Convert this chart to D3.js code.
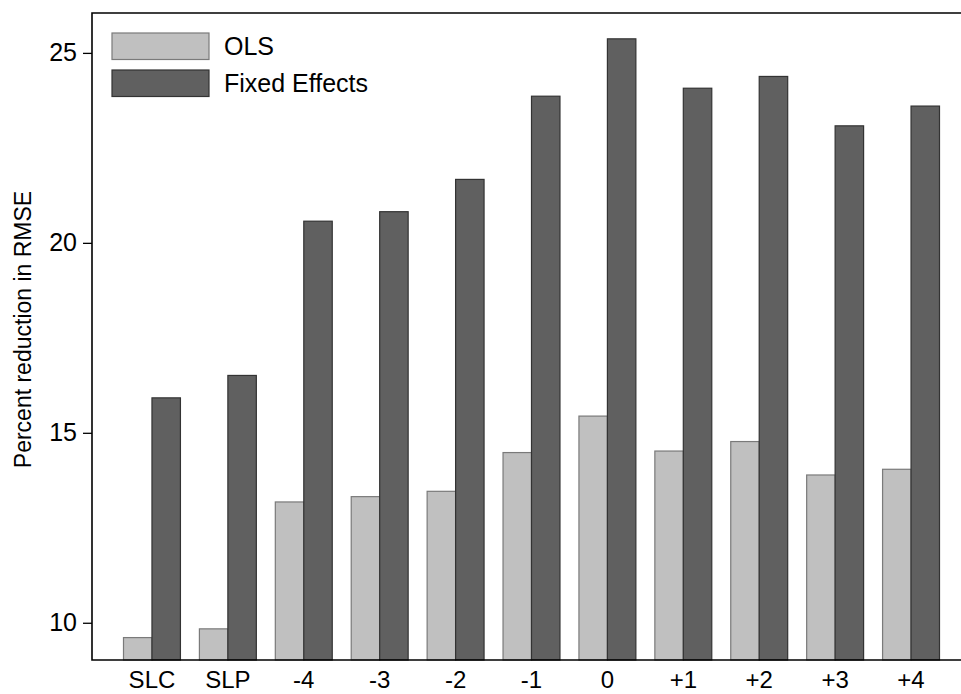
<!DOCTYPE html>
<html>
  <head>
    <meta charset="UTF-8">
    <style>
      body {
        margin: 0;
        font-family: Helvetica, Arial, "Liberation Sans", sans-serif;
        background: white;
      }
    </style>
    <script type="text/javascript" src="https://cdn.jsdelivr.net/npm/d3@7"></script>
  </head>

  <body>
    <svg id="Chart"></svg>

    <script type="text/javascript">
      // values
      let categories = ['SLC', 'SLP', '-4', '-3', '-2', '-1', '0', '+1', '+2', '+3', '+4'];
      let olsValues = [9.61, 9.84, 13.18, 13.32, 13.46, 14.48, 15.44, 14.52, 14.77, 13.89, 14.04];
      let fixedValues = [15.92, 16.51, 20.57, 20.82, 21.67, 23.86, 25.37, 24.07, 24.38, 23.08, 23.60];
      let seriesNames = ['OLS', 'Fixed Effects'];
      let seriesColors = ['#c0c0c0', '#606060'];
      let seriesStrokes = ['#7a7a7a', '#333333'];
      let yTicks = [10, 15, 20, 25];

      function getConfig() {
        let width = 961;
        let height = 694;
        let margin = {top: 13, bottom: 34, left: 92, right: -10};

        let container = d3.select('#Chart')
          .attr('width', width)
          .attr('height', height)

        return {width, height, margin, container}
      }

      function getScales(config) {
        let {width, height, margin} = config;

        let xScale = d3.scaleBand()
          .domain(categories)
          .range([margin.left, width - margin.right])
          .paddingInner(0.25)
          .paddingOuter(0.415)

        let subScale = d3.scaleBand()
          .domain(seriesNames)
          .range([0, xScale.bandwidth()])

        let yScale = d3.scaleLinear()
          .domain([9.02, 26.05])
          .range([height - margin.bottom, margin.top])

        return {xScale, subScale, yScale}
      }

      function drawBars(scales, config) {
        let {container} = config;
        let {xScale, subScale, yScale} = scales;
        let rows = categories.map((c, i) => ({category: c, values: [olsValues[i], fixedValues[i]]}));

        let groups = container.append('g')
          .selectAll('g')
          .data(rows)
          .enter()
          .append('g')
          .attr('transform', d => `translate(${xScale(d.category)},0)`)

        groups.selectAll('rect')
          .data(d => d.values.map((v, j) => ({name: seriesNames[j], value: v, j})))
          .enter()
          .append('rect')
          .attr('x', d => subScale(d.name))
          .attr('y', d => yScale(d.value))
          .attr('width', subScale.bandwidth())
          .attr('height', d => yScale.range()[0] - yScale(d.value))
          .attr('fill', d => seriesColors[d.j])
          .attr('stroke', d => seriesStrokes[d.j])
          .attr('stroke-width', 1.2)
      }

      function drawAxes(scales, config) {
        let {container, width} = config;
        let {xScale, yScale} = scales;
        let left = xScale.range()[0];
        let bottom = yScale.range()[0];
        let top = yScale.range()[1];

        let axisY = d3.axisLeft(yScale)
          .tickValues(yTicks)
          .tickSize(9)
          .tickPadding(6)

        let gy = container.append('g')
          .attr('transform', `translate(${left},0)`)
          .call(axisY)
        gy.select('.domain').remove();
        gy.selectAll('line').attr('stroke', '#000').attr('stroke-width', 1.3);
        gy.selectAll('text')
          .attr('font-size', 25)
          .attr('font-family', 'Helvetica, Arial, "Liberation Sans", sans-serif')
          .attr('fill', '#000')

        let axisX = d3.axisBottom(xScale)
          .tickSize(0)
          .tickPadding(11)

        let gx = container.append('g')
          .attr('transform', `translate(0,${bottom})`)
          .call(axisX)
        gx.select('.domain').remove();
        gx.selectAll('text')
          .attr('font-size', 24)
          .attr('font-family', 'Helvetica, Arial, "Liberation Sans", sans-serif')
          .attr('fill', '#000')

        // frame: left, top and bottom lines
        container.append('path')
          .attr('d', `M${width},${top}H${left}V${bottom}H${width}`)
          .attr('fill', 'none')
          .attr('stroke', '#000')
          .attr('stroke-width', 1.6)

        container.append('text')
          .attr('transform', `translate(31,${(top + bottom) / 2 - 7}) rotate(-90)`)
          .attr('text-anchor', 'middle')
          .attr('font-size', 23)
          .text('Percent reduction in RMSE')
      }

      function drawLegend(config) {
        let {container} = config;
        let legend = container.append('g')
          .attr('transform', 'translate(112,33)')

        let items = legend.selectAll('g')
          .data(seriesNames)
          .enter()
          .append('g')
          .attr('transform', (d, i) => `translate(0,${i * 37})`)

        items.append('rect')
          .attr('width', 97)
          .attr('height', 26.5)
          .attr('fill', (d, i) => seriesColors[i])
          .attr('stroke', (d, i) => seriesStrokes[i])
          .attr('stroke-width', 1.2)

        items.append('text')
          .attr('x', 112)
          .attr('y', 13.5)
          .attr('dy', '0.35em')
          .attr('font-size', 25)
          .text(d => d)
      }

      function drawChart() {
        let config = getConfig();
        let scales = getScales(config);
        drawBars(scales, config);
        drawAxes(scales, config);
        drawLegend(config);
      }

      drawChart();
    </script>
  </body>
</html>
